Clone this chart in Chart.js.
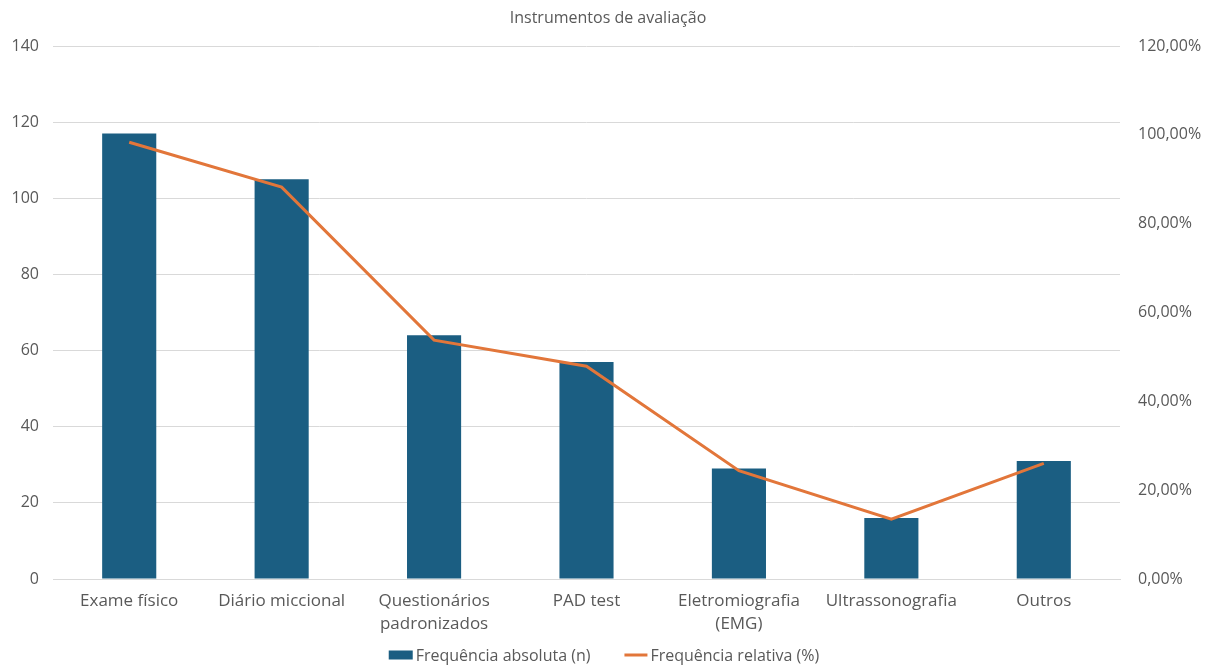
<!DOCTYPE html>
<html lang="pt">
<head>
<meta charset="utf-8">
<title>Instrumentos de avaliação</title>
<script src="https://cdn.jsdelivr.net/npm/chart.js@4/dist/chart.umd.min.js"></script>
<style>
  html, body { margin: 0; padding: 0; background: #ffffff; }
  #wrap { width: 1216px; height: 668px; position: relative; }
</style>
</head>
<body>
<div id="wrap"><canvas id="chart" width="1216" height="668"></canvas></div>
<script>
// Categorias e valores
const categories = [
  'Exame físico',
  'Diário miccional',
  ['Questionários', 'padronizados'],
  'PAD test',
  ['Eletromiografia', '(EMG)'],
  'Ultrassonografia',
  'Outros'
];
const absoluteFreq = [117, 105, 64, 57, 29, 16, 31];
const relativeFreq = [98.32, 88.24, 53.78, 47.90, 24.37, 13.45, 26.05];
const leftTicks = [0, 20, 40, 60, 80, 100, 120, 140];
const rightTicks = [0, 20, 40, 60, 80, 100, 120];

const FONT = "'Open Sans', 'Liberation Sans', sans-serif";
const TEXT = '#595959';
const BAR = '#1B5E82';
const LINE = '#E2763A';

// Legend drawn under the axis labels: a flat box for the bars, a stroke for the line
const bottomLegend = {
  id: 'bottomLegend',
  afterDraw(chart) {
    const ctx = chart.ctx;
    const ds = chart.data.datasets;
    ctx.save();
    ctx.font = '16px ' + FONT;
    ctx.textBaseline = 'middle';
    ctx.textAlign = 'left';
    const markW = [24, 23];
    const gapText = 3;
    const gapItem = 34;
    const widths = ds.map(d => ctx.measureText(d.label).width);
    const total = markW[0] + gapText + widths[0] + gapItem + markW[1] + gapText + widths[1];
    const cy = 655;
    let x = 604 - total / 2;
    ds.forEach((d, i) => {
      if (d.type === 'bar') {
        ctx.fillStyle = d.backgroundColor;
        ctx.fillRect(x, cy - 4.5, markW[i], 9);
      } else {
        ctx.strokeStyle = d.borderColor;
        ctx.lineWidth = 3;
        ctx.beginPath();
        ctx.moveTo(x, cy);
        ctx.lineTo(x + markW[i], cy);
        ctx.stroke();
      }
      x += markW[i] + gapText;
      ctx.fillStyle = TEXT;
      ctx.fillText(d.label, x, cy + 1);
      x += widths[i] + gapItem;
    });
    ctx.restore();
  }
};

new Chart(document.getElementById('chart'), {
  data: {
    labels: categories,
    datasets: [
      {
        type: 'bar',
        label: 'Frequência absoluta (n)',
        data: absoluteFreq,
        backgroundColor: BAR,
        yAxisID: 'y',
        categoryPercentage: 1,
        barPercentage: 0.355,
        order: 2
      },
      {
        type: 'line',
        label: 'Frequência relativa (%)',
        data: relativeFreq,
        borderColor: LINE,
        backgroundColor: LINE,
        borderWidth: 3,
        pointRadius: 0,
        tension: 0,
        yAxisID: 'y1',
        order: 1
      }
    ]
  },
  plugins: [bottomLegend],
  options: {
    responsive: false,
    animation: false,
    layout: { padding: { left: 0, right: 0, top: 0, bottom: 32 } },
    plugins: {
      title: {
        display: true,
        text: 'Instrumentos de avaliação',
        color: TEXT,
        font: { family: FONT, size: 16, weight: 'normal', lineHeight: 1.2 },
        padding: { top: 8.4, bottom: 18.4 }
      },
      legend: { display: false },
      tooltip: { enabled: false }
    },
    scales: {
      x: {
        afterFit: (s) => { s.height = 57; },
        grid: { display: false, drawTicks: false },
        border: { display: true, color: '#d9d9d9', width: 1 },
        ticks: {
          color: TEXT,
          font: { family: FONT, size: 17, lineHeight: 1.35 },
          padding: 11,
          maxRotation: 0,
          autoSkip: false
        }
      },
      y: {
        position: 'left',
        min: 0,
        max: 140,
        afterBuildTicks: (s) => { s.ticks = leftTicks.map(v => ({ value: v })); },
        afterFit: (s) => { s.width = 53; },
        grid: { color: '#d9d9d9', drawTicks: false },
        border: { display: false },
        ticks: {
          color: TEXT,
          font: { family: FONT, size: 16 },
          padding: 14
        }
      },
      y1: {
        position: 'right',
        min: 0,
        max: 120,
        afterBuildTicks: (s) => { s.ticks = rightTicks.map(v => ({ value: v })); },
        afterFit: (s) => { s.width = 96; },
        grid: { display: false, drawTicks: false },
        border: { display: false },
        ticks: {
          color: TEXT,
          font: { family: FONT, size: 16 },
          padding: 18,
          callback: (v) => v.toFixed(2).replace('.', ',') + '%'
        }
      }
    }
  }
});
</script>
</body>
</html>
